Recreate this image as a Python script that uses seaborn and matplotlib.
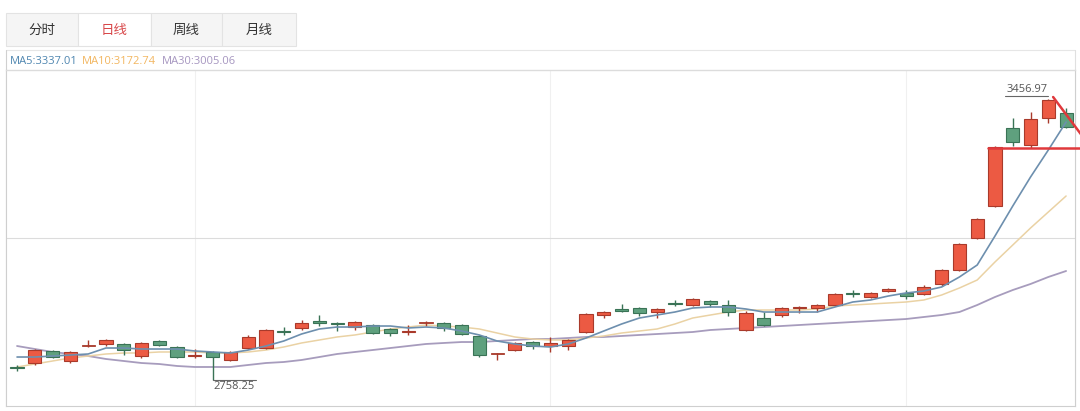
import numpy as np
import pandas as pd
import matplotlib
matplotlib.use("Agg")
import matplotlib.pyplot as plt
import seaborn as sns
from matplotlib.patches import Rectangle

# ---------------- data ----------------
opens = [2790.6, 2800.5, 2830.4, 2805.5, 2844.0, 2847.8, 2847.8, 2817.9, 2855.2, 2840.3,
         2819.0, 2827.9, 2808.0, 2837.8, 2837.8, 2879.0, 2887.6, 2904.9, 2901.2, 2890.0,
         2895.0, 2885.1, 2876.5, 2901.2, 2900.0, 2895.0, 2867.7, 2824.0, 2832.8, 2852.7,
         2842.8, 2842.8, 2877.6, 2919.9, 2934.8, 2937.3, 2927.3, 2948.5, 2944.7, 2954.7,
         2944.7, 2882.6, 2912.4, 2919.9, 2937.3, 2937.3, 2944.7, 2973.4, 2964.6, 2979.6,
         2974.6, 2972.1, 2997.0, 3031.8, 3111.5, 3190.9, 3384.9, 3342.6, 3409.7, 3422.2]
closes = [2788.1, 2832.8, 2815.4, 2827.9, 2845.3, 2857.7, 2832.8, 2850.3, 2845.3, 2815.4,
          2821.5, 2815.4, 2827.9, 2865.2, 2882.6, 2876.5, 2900.0, 2900.0, 2897.5, 2902.5,
          2875.1, 2875.1, 2879.0, 2902.5, 2887.6, 2872.6, 2820.4, 2825.4, 2850.3, 2842.8,
          2850.3, 2857.7, 2922.4, 2927.3, 2929.8, 2924.8, 2934.8, 2946.0, 2959.7, 2947.2,
          2927.3, 2924.8, 2895.0, 2937.3, 2939.8, 2944.7, 2972.1, 2971.0, 2974.6, 2984.5,
          2967.1, 2989.5, 3031.8, 3096.4, 3158.6, 3337.6, 3350.1, 3407.3, 3454.5, 3387.4]
highs = [2795.6, 2835.3, 2832.8, 2830.4, 2857.7, 2860.2, 2850.3, 2852.7, 2857.7, 2842.8,
         2835.3, 2830.4, 2830.4, 2870.2, 2885.1, 2890.0, 2907.4, 2919.9, 2902.5, 2904.9,
         2897.5, 2887.6, 2895.0, 2904.9, 2902.5, 2897.5, 2870.2, 2826.5, 2852.7, 2855.2,
         2865.2, 2860.2, 2924.8, 2929.8, 2947.2, 2939.8, 2937.3, 2957.2, 2962.1, 2957.2,
         2957.2, 2929.8, 2927.3, 2939.8, 2942.3, 2947.2, 2974.6, 2982.0, 2977.1, 2986.0,
         2982.0, 2994.5, 3034.3, 3098.9, 3161.1, 3340.1, 3409.7, 3424.7, 3456.97, 3434.6]
lows = [2780.6, 2795.6, 2813.0, 2800.5, 2840.3, 2842.8, 2820.4, 2813.0, 2842.8, 2813.0,
        2813.0, 2758.25, 2805.5, 2835.3, 2835.3, 2870.2, 2882.6, 2892.5, 2880.1, 2882.6,
        2872.6, 2867.7, 2870.2, 2892.5, 2880.1, 2870.2, 2815.4, 2808.0, 2830.4, 2835.3,
        2827.9, 2832.8, 2875.1, 2912.4, 2927.3, 2917.4, 2912.4, 2942.3, 2942.3, 2939.8,
        2917.4, 2880.1, 2892.5, 2914.9, 2924.8, 2927.3, 2942.3, 2964.6, 2962.1, 2978.1,
        2959.7, 2969.6, 2992.0, 3029.3, 3109.0, 3188.4, 3340.1, 3335.2, 3397.3, 3384.9]
ma5 = [2815.4, 2815.4, 2817.9, 2820.4, 2822.9, 2837.8, 2837.8, 2835.3, 2835.3, 2835.3,
       2830.4, 2827.9, 2825.4, 2832.8, 2842.8, 2855.2, 2872.6, 2885.1, 2890.0, 2890.0,
       2892.5, 2892.5, 2887.6, 2890.0, 2887.6, 2880.1, 2870.2, 2855.2, 2847.8, 2842.8,
       2840.3, 2847.8, 2862.7, 2880.1, 2897.5, 2912.4, 2919.9, 2927.3, 2937.3, 2939.8,
       2939.8, 2934.8, 2927.3, 2927.3, 2927.3, 2927.3, 2939.8, 2952.2, 2957.2, 2967.1,
       2974.6, 2979.6, 2989.5, 3014.4, 3044.2, 3116.3, 3190.9, 3263.0, 3330.2, 3399.8]
ma10 = [2790.6, 2798.0, 2805.5, 2813.0, 2817.9, 2822.9, 2825.4, 2825.4, 2827.9, 2827.9,
        2827.9, 2825.4, 2825.4, 2827.9, 2832.8, 2840.3, 2850.3, 2857.7, 2865.2, 2870.2,
        2877.6, 2885.1, 2890.0, 2895.0, 2892.5, 2890.0, 2885.1, 2875.1, 2865.2, 2860.2,
        2857.7, 2857.7, 2862.7, 2867.7, 2875.1, 2880.1, 2885.1, 2897.5, 2912.4, 2919.9,
        2927.3, 2932.3, 2932.3, 2932.3, 2932.3, 2934.8, 2942.3, 2944.7, 2947.2, 2949.7,
        2952.2, 2957.2, 2969.6, 2987.0, 3006.9, 3051.7, 3093.9, 3136.2, 3176.0, 3215.8]
ma30 = [2842.8, 2835.3, 2827.9, 2822.9, 2817.9, 2810.5, 2805.5, 2800.5, 2798.0, 2793.1,
        2790.6, 2790.6, 2790.6, 2795.6, 2800.5, 2803.0, 2808.0, 2815.4, 2822.9, 2827.9,
        2832.8, 2837.8, 2842.8, 2847.8, 2850.3, 2852.7, 2852.7, 2855.2, 2857.7, 2860.2,
        2860.2, 2862.7, 2865.2, 2865.2, 2867.7, 2870.2, 2872.6, 2875.1, 2877.6, 2882.6,
        2885.1, 2887.6, 2890.0, 2892.5, 2895.0, 2897.5, 2900.0, 2902.5, 2904.9, 2907.4,
        2909.9, 2914.9, 2919.9, 2927.3, 2944.7, 2964.6, 2982.0, 2997.0, 3014.4, 3029.3]
tabs = ["分时", "日线", "周线", "月线"]
ma_labels = ["MA5:3337.01", "MA10:3172.74", "MA30:3005.06"]
high_label = "3456.97"
low_label = "2758.25"
# hand-drawn red annotation (price levels)
support_level = 3335.2
trend_start = 3461.9
trend_end = 3362.5

# ---------------- styling ----------------
sns.set_theme(style="white")
plt.rcParams['font.family'] = ['Open Sans', 'Noto Sans CJK SC', 'DejaVu Sans']

RED_F, RED_E = '#ec5a43', '#a93a2b'
GRN_F, GRN_E = '#5fa07e', '#3a7356'
C_MA5, C_MA10, C_MA30 = '#6d8fae', '#ead2a4', '#a79cbd'

W, H = 1080, 411
fig = plt.figure(figsize=(W / 100, H / 100), dpi=100)
fig.patch.set_facecolor('white')

# background layer in pixel coordinates
bg = fig.add_axes([0, 0, 1, 1])
bg.set_xlim(0, W)
bg.set_ylim(H, 0)
bg.axis('off')

tab_edges = [6, 78, 151, 222, 296]
for k, name in enumerate(tabs):
    x0, x1 = tab_edges[k], tab_edges[k + 1]
    sel = (name == "日线")
    bg.add_patch(Rectangle((x0, 13), x1 - x0, 33, facecolor='white' if sel else '#f5f5f5',
                           edgecolor='#e3e3e3', lw=0.8))
    bg.text((x0 + x1) / 2, 30, name, ha='center', va='center', fontsize=9.7,
            family=['Noto Sans CJK SC', 'DejaVu Sans'],
            color='#d8484a' if sel else '#333333')

# container border
bg.plot([6, 1075], [50, 50], color='#e6e6e6', lw=0.8)
bg.plot([6, 6], [50, 406], color='#d0d0d0', lw=0.8)
bg.plot([1075, 1075], [50, 406], color='#e0e0e0', lw=0.8)

ma_cols = ['#4f86b0', '#f2b660', '#a696c0']
ma_x = [10, 82, 162]
for lab, col, xx in zip(ma_labels, ma_cols, ma_x):
    bg.text(xx, 62, lab, ha='left', va='center', fontsize=8, color=col)

# main chart axes
ax = fig.add_axes([6 / W, (H - 406) / H, (1075 - 6) / W, (406 - 70) / H])
ax.set_facecolor('white')
n = len(opens)
idx = np.arange(n)
ax.set_xlim(-0.62, 59.5)
ax.set_ylim(2693.6, 3529.1)

for x in (10, 30, 50):
    ax.axvline(x, color='#f0f0f0', lw=0.8, zorder=0)
ax.axhline(3111.4, color='#dcdcdc', lw=0.8, zorder=0)

df = pd.DataFrame({'i': idx, 'MA5': ma5, 'MA10': ma10, 'MA30': ma30})
sns.lineplot(data=df, x='i', y='MA30', ax=ax, color=C_MA30, lw=1.3, zorder=2)
sns.lineplot(data=df, x='i', y='MA10', ax=ax, color=C_MA10, lw=1.1, zorder=2)
sns.lineplot(data=df, x='i', y='MA5', ax=ax, color=C_MA5, lw=1.2, zorder=4)

bw = 0.74
min_h = 2.2
for i in range(n):
    o, c, hi, lo = opens[i], closes[i], highs[i], lows[i]
    up = c >= o
    fc, ec = (RED_F, RED_E) if up else (GRN_F, GRN_E)
    ax.vlines(i, lo, hi, color=ec, lw=1.0, zorder=3)
    bottom = min(o, c)
    h = abs(c - o)
    if h < min_h:
        ax.add_patch(Rectangle((i - bw / 2, (o + c) / 2 - min_h / 2), bw, min_h,
                               facecolor=ec, edgecolor=ec, lw=0.6, zorder=3))
    else:
        ax.add_patch(Rectangle((i - bw / 2, bottom), bw, h, facecolor=fc,
                               edgecolor=ec, lw=0.8, zorder=3))

# high / low labels
hi_i = int(np.argmax(highs))
lo_i = int(np.argmin(lows))
ax.plot([hi_i - 2.45, hi_i], [highs[hi_i] + 7, highs[hi_i] + 7], color='#666666', lw=0.8, zorder=5)
ax.text(hi_i - 1.2, highs[hi_i] + 11, high_label, ha='center', va='bottom', fontsize=8, color='#555555')
ax.plot([lo_i, lo_i + 2.45], [lows[lo_i], lows[lo_i]], color='#666666', lw=0.8, zorder=5)
ax.text(lo_i + 0.02, lows[lo_i] - 3, low_label, ha='left', va='top', fontsize=8, color='#555555')

# hand-drawn red lines
ax.plot([54.6, 59.85], [support_level, support_level], color='#e0393c', lw=1.8,
        clip_on=False, zorder=6)
ax.plot([58.27, 59.95], [trend_start, trend_end], color='#e0393c', lw=1.8,
        clip_on=False, zorder=6)

ax.set_xlabel('')
ax.set_ylabel('')
ax.set_xticks([])
ax.set_yticks([])
for side in ('left', 'right', 'bottom'):
    ax.spines[side].set_color('#cfcfcf')
    ax.spines[side].set_linewidth(0.8)
ax.spines['top'].set_color('#dcdcdc')
ax.spines['top'].set_linewidth(1.0)
if ax.get_legend():
    ax.get_legend().remove()

fig.savefig('out.png', dpi=100, facecolor='white')
